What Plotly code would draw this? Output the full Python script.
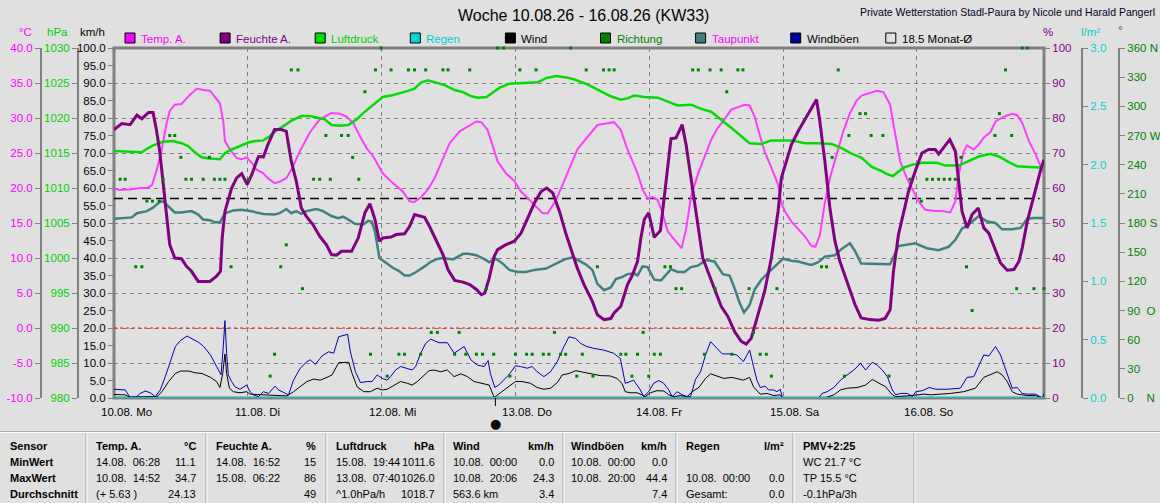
import plotly.graph_objects as go

W, H = 1160, 503
BG = "#e0e0e0"
GRID = "#808080"
AXIS = "#808080"
FONT = "Liberation Sans, Arial, sans-serif"
TITLE_FONT = "Liberation Sans, Arial, sans-serif"
TICK_SIZE = 11.5

# series colours
C_TEMP = "#ff3cff"
C_HUM = "#800080"
C_PRESS = "#00dd00"
C_RAIN = "#00c8d0"
C_WIND = "#000000"
C_DIR = "#008000"
C_DEW = "#408080"
C_GUST = "#0000b0"

# ---------------- data (hours since 10.08. 00:00) ----------------
temp_h = [0, 1.1, 2.9, 4.7, 5.9, 6.8, 7.6, 8.5, 9.4, 10.0,
          10.9, 12.1, 13.6, 14.9, 16.0, 17.2, 19.0, 19.6, 19.9, 20.8,
          22.0, 22.9, 23.8, 24.7, 25.6, 26.8, 27.6, 28.8, 29.7, 30.9,
          32.0, 33.3, 35.1, 36.9, 39.0, 40.5, 41.7, 42.9, 44.1, 45.3,
          46.5, 48.2, 50.0, 51.8, 53.0, 53.9, 55.1, 56.3, 57.5, 59.0,
          60.2, 62.0, 63.5, 65.0, 65.9, 67.0, 68.8, 70.3, 71.8, 73.0,
          74.5, 75.7, 76.9, 77.8, 79.3, 81.1, 82.6,
          83.1, 84.3, 85.5, 86.7, 88.2, 89.7, 90.9, 92.0, 93.0, 93.9,
          94.8, 95.7, 96.6, 97.5, 98.4, 99.3, 100.2, 101.1, 101.8, 102.6,
          103.5, 104.7, 105.9, 107.1, 108.3, 109.5, 110.7, 111.9, 113.1, 114.0,
          114.9, 115.8, 116.7, 117.9, 119.1, 119.7, 120.3, 121.5, 122.7, 123.9,
          125.1, 125.8, 126.6, 127.5, 128.4, 129.6, 130.8, 132.0, 133.2, 134.1,
          135.6, 136.8, 138.0, 139.2, 139.8, 140.4, 141.0, 142.2, 143.4, 144.3,
          145.5, 147.3, 148.5, 150.0, 150.9, 151.5, 152.4, 153.0, 154.2, 155.1,
          156.0, 157.2, 158.1, 159.6, 161.1, 162.0, 162.9, 164.1, 165.3, 166.2,
          166.8]
temp_c = [19.9, 19.7, 19.8, 20.0, 20.0, 20.4, 22.4, 25.2, 29.1, 31.0,
          31.9, 32.0, 33.3, 34.2, 34.0, 33.9, 32.1, 29.5, 26.7, 25.5,
          24.3, 24.1, 24.4, 23.6, 22.6, 22.1, 21.4, 20.7, 20.9, 21.4,
          22.9, 25.2, 27.9, 29.8, 30.7, 30.6, 30.2, 29.3, 27.4, 25.7,
          24.5, 22.1, 20.7, 19.5, 18.1, 18.0, 18.7, 19.8, 21.4, 24.1,
          26.4, 28.1, 28.8, 29.5, 29.4, 28.3, 23.8, 22.1, 21.0, 19.5,
          18.3, 17.4, 16.4, 16.4, 18.3, 21.7, 24.5,
          25.5, 26.7, 27.9, 29.0, 29.2, 29.4, 28.3, 25.7, 23.8, 22.1,
          19.8, 18.5, 18.7, 18.3, 16.4, 13.8, 12.9, 12.1, 11.4, 14.1,
          18.8, 21.9, 24.3, 26.9, 28.6, 29.8, 31.2, 31.5, 31.9, 31.8,
          30.2, 27.6, 25.2, 22.9, 20.5, 17.9, 16.7, 15.2, 14.1, 13.1,
          11.7, 11.6, 13.3, 17.9, 21.4, 24.8, 28.1, 30.7, 32.5, 33.2,
          33.6, 33.9, 33.7, 31.9, 29.1, 26.2, 23.8, 21.4, 19.5, 18.1,
          16.9, 16.7, 16.7, 16.5, 18.1, 21.9, 25.2, 26.1, 25.5, 26.2,
          27.2, 28.0, 29.5, 30.2, 30.6, 30.4, 29.3, 26.7, 24.8, 22.9,
          21.9]

hum_h = [0, 1.4, 2.9, 4.1, 5.0, 6.2, 7.0, 7.6, 8.2, 8.7,
         9.1, 9.6, 10.0, 10.9, 12.1, 13.0, 13.9, 15.1, 17.2, 18.4,
         19.1, 19.4, 19.9, 21.1, 22.0, 22.9, 23.9, 24.7, 25.9, 26.8,
         27.6, 28.8, 30.0, 30.9, 31.8, 32.7, 33.6, 34.5, 35.7, 36.9,
         38.1, 39.0, 39.9, 40.8, 42.6, 43.8, 45.0, 45.9, 46.8, 47.6,
         48.2, 49.7, 50.6, 52.1, 53.0, 53.9, 55.7, 56.6, 57.8, 59.0,
         59.9, 61.1, 62.6, 63.8, 65.0, 65.9, 66.5, 67.3, 68.2, 68.8,
         70.3, 71.8, 73.0, 74.2, 75.4, 76.6, 77.6, 78.7, 79.9, 81.1,
         82.6,
         83.1, 84.3, 85.8, 86.7, 87.9, 89.1, 89.7, 90.9, 92.1, 93.0,
         93.9, 94.5, 95.1, 95.9, 96.4, 96.9, 98.0, 98.6, 99.2, 99.9,
         100.8, 101.9, 102.6, 103.5, 104.7, 105.6, 106.5, 107.7, 108.9, 110.1,
         111.3, 112.5, 113.4, 114.3, 115.5, 116.7, 117.9, 119.1, 119.7, 120.6,
         121.5, 122.7, 123.9, 125.1, 126.0, 126.6, 127.5, 128.4, 129.3, 130.2,
         131.7, 132.9, 134.0, 135.6, 137.1, 138.3, 139.2, 139.8, 140.7, 141.6,
         142.5, 143.7, 144.9, 146.1, 147.3, 147.9, 148.8, 149.9, 150.9, 151.5,
         152.1, 153.0, 153.9, 155.0, 156.0, 156.9, 158.1, 159.0, 160.2, 161.4,
         162.3, 162.9, 163.8, 164.7, 165.6, 166.2, 166.8]
hum_pct = [76.7, 78.4, 78.1, 80.8, 79.8, 81.6, 81.6, 76.7, 70.5, 62.9,
           56.2, 50.5, 43.8, 40.0, 39.8, 37.6, 36.2, 33.3, 33.3, 34.8,
           36.2, 45.7, 53.3, 60.0, 62.9, 64.1, 61.0, 63.8, 69.0, 68.9,
           72.4, 76.7, 76.7, 76.2, 67.6, 61.9, 54.3, 51.9, 49.5, 46.2,
           43.8, 41.0, 40.8, 41.9, 41.9, 45.7, 52.9, 55.5, 51.0, 44.8,
           45.7, 46.0, 46.7, 46.9, 49.0, 52.4, 51.6, 49.0, 45.2, 41.0,
           36.7, 33.6, 33.1, 32.4, 31.0, 29.5, 30.0, 34.3, 40.5, 42.4,
           43.8, 44.8, 47.1, 51.4, 55.7, 59.0, 60.0, 58.6, 53.3, 46.7,
           39.0,
           37.1, 32.4, 27.6, 23.8, 22.4, 22.7, 24.3, 26.2, 32.4, 35.2,
           39.0, 45.7, 51.0, 52.9, 49.0, 45.9, 47.8, 56.2, 65.7, 74.1,
           74.3, 78.1, 72.4, 62.9, 50.5, 40.0, 36.2, 31.4, 26.2, 23.3,
           19.0, 16.2, 15.4, 17.1, 23.8, 30.5, 40.0, 53.3, 62.9, 67.6,
           72.4, 76.2, 79.5, 82.9, 85.3, 79.0, 67.6, 54.3, 44.8, 39.0,
           32.4, 26.7, 22.9, 22.4, 22.2, 22.7, 25.2, 36.2, 46.7, 53.3,
           59.0, 64.8, 70.0, 71.0, 71.0, 69.7, 71.4, 73.8, 70.5, 61.0,
           53.3, 48.6, 52.4, 54.3, 48.6, 47.1, 41.9, 38.6, 36.5, 36.7,
           39.0, 42.9, 50.5, 56.2, 61.9, 65.2, 68.1]

press_h = [0, 1.7, 3.5, 5.0, 5.9, 7.0, 8.8, 10.6, 12.1, 13.3,
           14.5, 15.7, 17.2, 19.0, 19.9, 21.1, 22.6, 24.1, 25.3, 26.8,
           27.9, 29.1, 30.3, 31.8, 33.6, 35.1, 36.6, 37.8, 39.0, 40.5,
           42.0, 43.5, 44.7, 46.2, 47.0, 48.2, 49.7, 51.2, 52.4, 53.9,
           55.1, 56.3, 57.8, 59.3, 61.1, 62.6, 64.1, 65.3, 66.8, 67.9,
           69.1, 70.9, 72.7, 74.5, 76.0, 77.5, 79.3, 81.1, 82.6,
           84.9, 86.7, 89.1, 90.9, 92.1, 93.3, 95.1, 97.5, 99.3, 101.1,
           103.5, 105.3, 107.1, 108.9, 110.7, 112.5, 114.0, 116.1, 117.9, 121.5,
           123.9, 126.3, 128.7, 130.5, 132.3, 134.1, 135.9, 137.7, 138.6, 139.7,
           141.6, 143.1, 144.9, 147.6, 149.1, 151.5, 153.3, 155.1, 157.2, 158.7,
           160.5, 162.0, 164.1, 166.8]
press_hpa = [1015.3, 1015.2, 1015.1, 1015.1, 1015.6, 1016.1, 1016.6, 1016.7, 1016.4, 1016.0,
             1015.1, 1014.4, 1014.2, 1014.1, 1015.0, 1015.5, 1016.0, 1016.5, 1016.7, 1016.8,
             1017.4, 1018.2, 1018.8, 1019.6, 1020.3, 1020.3, 1020.0, 1019.8, 1019.0, 1018.9,
             1019.0, 1019.8, 1020.7, 1021.7, 1022.3, 1023.0, 1023.2, 1023.5, 1023.8, 1024.2,
             1025.1, 1025.4, 1025.0, 1024.7, 1024.0, 1023.7, 1023.1, 1022.9, 1023.0, 1023.6,
             1024.3, 1024.9, 1025.0, 1025.1, 1025.1, 1025.7, 1026.0, 1025.8, 1025.5,
             1024.8, 1024.1, 1023.1, 1022.6, 1022.8, 1023.2, 1023.0, 1022.9, 1022.4, 1021.8,
             1021.9, 1021.3, 1020.9, 1019.8, 1018.6, 1017.4, 1016.4, 1016.3, 1016.8, 1016.8,
             1016.4, 1016.4, 1016.3, 1015.7, 1014.9, 1014.3, 1013.0, 1012.4, 1012.0, 1011.7,
             1012.9, 1013.3, 1013.6, 1013.6, 1013.2, 1013.2, 1013.8, 1014.5, 1014.9, 1014.5,
             1013.7, 1013.1, 1013.0, 1012.9]

dew_h = [0, 1.7, 3.2, 4.1, 5.9, 7.0, 8.2, 8.8, 9.7, 10.9,
         12.1, 13.9, 15.1, 16.0, 17.2, 18.1, 19.0, 19.9, 21.4, 22.9,
         24.4, 25.6, 26.8, 28.8, 29.7, 30.9, 31.8, 32.7, 33.6, 34.5,
         36.3, 37.5, 39.0, 40.2, 41.1, 42.0, 43.2, 44.7, 45.6, 46.2,
         46.8, 47.6, 48.8, 50.0, 51.2, 52.1, 53.0, 54.2, 55.7, 56.9,
         58.1, 59.0, 60.8, 62.6, 63.5, 65.0, 66.5, 67.3, 68.5, 69.7,
         70.9, 72.4, 73.9, 75.4, 77.5, 79.0, 80.8, 82.3,
         84.6, 85.8, 86.7, 87.9, 89.1, 90.0, 91.2, 92.1, 93.3, 93.9,
         94.8, 95.7, 96.9, 98.1, 99.9, 101.1, 102.3, 103.5, 104.7, 106.2,
         107.7, 109.2, 110.4, 111.3, 112.2, 113.0, 114.0, 114.9, 116.1, 117.6,
         119.1, 120.0, 121.5, 122.7, 124.5, 125.1, 126.3, 127.5, 129.3, 130.5,
         132.0, 132.9, 134.0, 135.9, 138.3, 139.2, 140.7, 142.5, 143.7, 145.8,
         147.9, 149.7, 150.9, 152.1, 153.3, 155.1, 156.6, 158.1, 159.3, 161.1,
         162.6, 163.8, 165.0, 166.8]
dew_c = [15.6, 15.7, 15.8, 16.4, 16.7, 17.2, 18.0, 18.1, 17.4, 16.5,
         16.5, 16.7, 16.2, 15.5, 15.4, 15.1, 15.1, 16.4, 16.8, 16.9,
         16.7, 16.5, 16.3, 16.2, 16.4, 17.0, 16.4, 16.7, 16.3, 16.7,
         17.0, 16.7, 16.0, 15.7, 15.9, 15.5, 14.9, 14.8, 15.3, 15.2,
         13.8, 10.0, 9.3, 8.6, 8.1, 7.5, 7.5, 8.0, 8.8, 9.5,
         9.9, 10.0, 9.8, 10.6, 10.6, 10.4, 9.8, 9.4, 9.9, 9.2,
         8.3, 8.0, 8.0, 8.3, 8.5, 9.1, 9.8, 10.1,
         9.1, 8.3, 6.3, 5.4, 5.8, 7.0, 7.3, 7.7, 7.8, 7.5,
         8.8, 8.7, 6.9, 6.8, 8.4, 8.0, 8.0, 8.7, 8.9, 9.7,
         9.5, 7.7, 7.5, 5.7, 3.6, 2.2, 3.3, 5.5, 6.9, 8.1,
         9.3, 9.9, 9.6, 9.5, 9.1, 9.0, 9.4, 10.2, 10.4, 11.3,
         12.1, 11.0, 9.2, 9.2, 9.2, 9.1, 11.7, 11.9, 12.1, 11.4,
         11.1, 11.6, 12.6, 14.2, 14.8, 16.0, 15.2, 15.0, 14.1, 14.1,
         14.3, 15.6, 15.7, 15.7]

wind_h = [0, 1.1, 2.0, 2.9, 4.1, 5.3, 6.5, 7.7, 8.6, 9.8,
          11.0, 11.9, 13.4, 14.6, 15.8, 17.3, 18.4, 19.0, 19.5, 19.9,
          20.2, 20.7, 21.4, 22.6, 23.8, 24.4, 25.6, 26.8, 28.0, 29.2,
          31.0, 32.2, 33.4, 34.6, 35.8, 37.0, 38.2, 39.1, 40.3, 41.2,
          42.1, 42.7, 43.6, 44.8, 46.0, 47.2, 48.1, 49.0, 50.2, 51.4,
          52.6, 53.5, 54.4, 55.3, 56.5, 57.4, 58.6, 59.8, 61.0, 62.2,
          63.4, 64.6, 66.1, 67.3, 68.0, 68.3, 68.4, 69.3, 70.5, 72.0,
          73.2, 74.7, 75.9, 77.1, 78.3, 79.5, 80.4, 81.6, 82.8,
          85.4, 87.2, 89.0, 90.2, 91.1, 91.7, 92.6, 93.8, 94.7, 95.3,
          96.2, 97.4, 98.6, 99.5, 100.4, 101.6, 102.8, 103.7, 104.9, 106.1,
          107.0, 108.2, 109.4, 110.8, 112.0, 112.9, 114.0, 114.7, 115.9, 117.1,
          118.3, 119.5, 119.9, 127.3, 128.2, 129.1, 130.3, 131.5, 133.3, 134.8,
          136.0, 137.2, 138.4, 139.6, 140.2, 142.3, 143.8, 145.3, 146.5, 148.2,
          150.0, 152.4, 154.5, 156.0, 157.2, 158.4, 159.3, 160.2, 161.1, 162.0,
          163.8, 165.3, 166.5, 166.8]
wind_kmh = [1.0, 0.9, 0.9, 0.3, 0.3, 0.4, 0.4, 0.4, 1.8, 4.7,
            7.0, 7.7, 7.7, 7.2, 7.0, 5.9, 4.7, 3.0, 7.0, 12.6,
            7.0, 2.8, 1.8, 1.5, 1.8, 1.1, 1.0, 0.9, 1.0, 0.7,
            0.6, 1.8, 3.2, 4.7, 5.4, 5.1, 5.9, 6.6, 10.1, 10.2,
            10.2, 7.0, 3.2, 1.8, 1.8, 2.8, 2.3, 2.5, 3.7, 4.7,
            4.2, 3.7, 4.7, 6.1, 7.8, 8.0, 7.5, 8.0, 6.1, 6.9,
            6.1, 4.7, 4.2, 3.7, 0.9, 0.0, 0.4, 1.5, 2.8, 4.7,
            4.7, 4.2, 3.0, 2.5, 2.8, 4.4, 6.6, 7.0, 7.8,
            7.0, 6.4, 6.3, 5.6, 4.2, 1.8, 1.5, 1.5, 0.9, 0.4,
            1.5, 2.1, 2.0, 0.9, 0.4, 0.7, 0.4, 1.8, 3.0, 5.6,
            6.9, 6.3, 5.6, 5.9, 5.4, 5.1, 5.9, 3.2, 1.1, 1.3,
            0.7, 0.9, 0.0, 0.0, 0.4, 0.9, 2.3, 2.8, 3.0, 3.7,
            5.3, 4.2, 3.2, 0.9, 0.4, 0.6, 0.9, 1.1, 0.9, 1.1,
            1.3, 1.8, 2.8, 5.9, 6.6, 7.5, 6.6, 4.7, 1.8, 1.1,
            0.7, 0.7, 0.0, 0.0]

gust_h = [0, 1.1, 2.0, 2.6, 2.9, 3.8, 4.7, 5.6, 6.5, 7.4,
          8.3, 9.2, 10.1, 11.0, 11.9, 13.1, 14.0, 15.2, 16.1, 17.3,
          18.4, 19.2, 19.6, 19.9, 20.2, 20.5, 21.1, 21.7, 22.6, 23.8,
          24.4, 25.0, 25.9, 26.8, 27.7, 28.3, 28.9, 29.5, 30.4, 31.3,
          32.2, 33.4, 34.6, 35.2, 36.1, 37.3, 38.5, 39.4, 40.3, 41.2,
          41.9, 42.4, 43.3, 44.2, 45.4, 46.3, 47.2, 48.1, 49.0, 49.6,
          50.5, 51.4, 52.6, 53.5, 54.1, 55.0, 55.9, 56.8, 58.3, 59.8,
          61.0, 61.9, 62.8, 64.0, 65.2, 66.4, 67.1, 67.5, 68.3, 69.0,
          69.9, 70.8, 72.0, 72.9, 74.1, 75.0, 75.9, 77.1, 78.3, 79.5,
          80.7, 81.6, 82.8, 83.7,
          84.8, 86.0, 87.8, 89.6, 90.8, 91.7, 92.6, 93.2, 93.8, 94.4,
          95.0, 95.9, 96.8, 97.7, 98.6, 99.5, 100.1, 101.0, 101.9, 102.8,
          103.4, 104.3, 105.2, 106.1, 107.0, 107.9, 109.1, 110.5, 111.7, 112.9,
          114.0, 114.7, 115.3, 115.9, 116.8, 117.4, 118.3, 118.9, 119.5, 119.9,
          120.7, 126.4, 127.0, 127.9, 129.1, 130.3, 131.5, 132.7, 133.9, 134.8,
          136.0, 136.9, 137.8, 138.7, 139.6, 140.2, 141.1, 142.3, 143.2, 143.8,
          145.0, 146.2, 147.4, 149.4, 151.8, 153.0, 154.2, 155.1, 156.0, 156.9,
          158.1, 159.0, 159.9, 161.1, 162.0, 162.9, 163.8, 165.3, 166.5, 166.8]
gust_kmh = [2.5, 2.5, 2.3, 0.9, 0.1, 0.1, 1.3, 2.0, 1.5, 0.4,
            2.3, 6.1, 10.4, 14.7, 16.4, 17.7, 16.9, 15.9, 14.7, 12.3,
            9.0, 6.6, 14.7, 22.1, 12.8, 6.6, 4.7, 3.2, 2.5, 3.7,
            1.8, 0.9, 0.4, 1.8, 1.3, 2.3, 3.4, 2.3, 1.5, 0.9,
            5.1, 8.5, 10.4, 10.9, 9.6, 12.0, 13.2, 12.8, 17.5, 18.0,
            18.2, 13.2, 7.5, 4.4, 4.7, 4.7, 6.6, 5.6, 5.1, 6.1,
            8.0, 9.0, 8.5, 8.0, 9.0, 12.8, 15.6, 16.8, 15.8, 15.8,
            12.8, 13.7, 14.7, 10.9, 9.4, 9.0, 10.7, 7.0, 3.0, 3.7,
            5.1, 6.6, 9.2, 9.0, 8.5, 9.0, 7.5, 6.1, 7.5, 10.4,
            14.7, 17.5, 17.0, 15.6,
            14.7, 14.2, 13.7, 12.8, 11.3, 4.2, 4.7, 5.1, 3.7, 2.3,
            0.4, 1.8, 4.2, 5.0, 4.2, 2.3, 0.4, 1.8, 0.9, 0.4,
            0.4, 5.3, 7.5, 12.3, 16.1, 14.7, 12.6, 12.6, 12.3, 10.4,
            13.7, 9.0, 5.1, 3.0, 3.4, 2.3, 2.3, 1.8, 2.5, 0.0,
            0.0, 0.0, 1.3, 1.8, 3.0, 5.1, 6.6, 8.0, 9.9, 8.0,
            10.2, 9.4, 8.0, 6.1, 2.3, 0.9, 1.3, 1.3, 0.4, 1.8,
            2.1, 3.0, 2.5, 2.5, 2.8, 5.9, 6.1, 9.4, 12.3, 12.0,
            14.7, 12.3, 8.0, 2.8, 3.0, 1.3, 1.1, 1.1, 0.0, 1.3]

rain_h = [0, 24, 48, 72, 96, 120, 144, 166.8]
rain_mm = [0.0, 0.0, 0.0, 0.0, 0.0, 0.0, 0.0, 0.0]

dir_h = [1.1, 2.0, 3.9, 5.0, 5.9, 6.9, 8.1, 8.8, 10.0, 10.9,
         12.0, 12.9, 13.9, 16.0, 17.1, 18.0, 19.0, 19.9, 21.0, 24.1,
         28.0, 28.8, 29.9, 30.9, 31.8, 33.0, 33.8, 35.8, 36.9, 38.0,
         38.8, 40.8, 42.0, 42.8, 43.9, 45.0, 46.0, 46.9, 47.9, 49.0,
         49.7, 51.1, 52.1, 52.8, 53.9, 55.0, 55.9, 56.9, 58.0, 59.0,
         59.9, 61.1, 61.9, 63.1, 63.8, 65.0, 66.1, 66.8, 68.1, 68.8,
         69.9, 71.0, 72.0, 72.8, 74.0, 75.0, 75.7, 77.0, 78.0, 79.0,
         80.1, 81.0, 81.9, 83.0, 84.0, 84.7, 85.9, 86.7, 87.8, 88.8,
         89.7, 90.9, 91.8, 92.9, 93.9, 94.9, 95.9, 96.9, 98.0, 98.8,
         99.8, 100.8, 101.8, 103.8, 104.8, 105.9, 106.9, 107.8, 108.9, 109.9,
         110.8, 111.9, 112.8, 113.9, 114.7, 115.9, 117.0, 117.9, 118.9, 126.9,
         127.8, 128.8, 129.9, 131.0, 131.8, 133.8, 134.8, 135.8, 137.9, 139.0,
         142.8, 144.8, 145.8, 146.8, 147.9, 148.9, 149.9, 150.9, 151.9, 152.9,
         153.9, 158.0, 158.8, 159.9, 161.0, 161.9, 162.9, 163.8, 165.0, 166.8]
dir_deg = [225, 225, 135, 135, 202.5, 202.5, 202.5, 225, 270, 270,
           247.5, 225, 225, 225, 247.5, 225, 225, 225, 135, 225,
           22.5, 45, 135, 157.5, 337.5, 337.5, 112.5, 225, 225, 270,
           225, 270, 270, 247.5, 225, 315, 45, 337.5, 360, 22.5,
           337.5, 45, 45, 337.5, 337.5, 45, 337.5, 67.5, 67.5, 337.5,
           337.5, 45, 67.5, 45, 337.5, 45, 45, 112.5, 45, 360,
           360, 22.5, 45, 337.5, 45, 45, 337.5, 45, 45, 67.5,
           45, 45, 360, 22.5, 45, 337.5, 22.5, 135, 337.5, 337.5,
           337.5, 45, 45, 22.5, 45, 67.5, 22.5, 45, 45, 135,
           135, 112.5, 112.5, 337.5, 337.5, 45, 337.5, 112.5, 337.5, 315,
           45, 337.5, 337.5, 112.5, 67.5, 45, 45, 22.5, 112.5, 135,
           135, 247.5, 337.5, 22.5, 270, 292.5, 292.5, 270, 270, 22.5,
           225, 202.5, 225, 225, 225, 225, 225, 225, 247.5, 135,
           90, 270, 292.5, 337.5, 270, 112.5, 360, 360, 112.5, 112.5]

MONTH_AVG_TEMP = 18.5
FROST_TEMP = 0.0
NEW_MOON_H = 68.4
X_END_H = 166.8

DAY_HOURS = [0, 24, 48, 72, 96, 120, 144]
DAY_LABELS = ["10.08. Mo", "11.08. Di", "12.08. Mi", "13.08. Do",
              "14.08. Fr", "15.08. Sa", "16.08. So"]

TEMP_TICKS = [-10, -5, 0, 5, 10, 15, 20, 25, 30, 35, 40]
PRESS_TICKS = [980, 985, 990, 995, 1000, 1005, 1010, 1015, 1020, 1025, 1030]
KMH_TICKS = [0, 5, 10, 15, 20, 25, 30, 35, 40, 45, 50, 55, 60, 65, 70, 75, 80, 85, 90, 95, 100]
HUM_TICKS = [0, 10, 20, 30, 40, 50, 60, 70, 80, 90, 100]
RAIN_TICKS = [0, 0.5, 1.0, 1.5, 2.0, 2.5, 3.0]
DIR_TICKS = [0, 30, 60, 90, 120, 150, 180, 210, 240, 270, 300, 330, 360]
NB = "\u00a0"
DIR_TEXT = ["0" + NB * 4 + "N", "30", "60", "90" + NB * 2 + "O", "120", "150", "180 S",
            "210", "240", "270 W", "300", "330", "360 N"]

TITLE = "Woche 10.08.26 - 16.08.26 (KW33)"
CREDIT = "Private Wetterstation Stadl-Paura by Nicole und Harald Pangerl"

# summary table below the chart
TBL_ROWS = ["Sensor", "MinWert", "MaxWert", "Durchschnitt"]
TBL_SENSORS = ["Temp. A.", "Feuchte A.", "Luftdruck", "Wind", "Windböen", "Regen"]
TBL_UNITS = ["°C", "%", "hPa", "km/h", "km/h", "l/m²"]
TBL_MIN_TIME = ["14.08." + NB * 2 + "06:28", "14.08." + NB * 2 + "16:52", "15.08." + NB * 2 + "19:44",
                "10.08." + NB * 2 + "00:00", "10.08." + NB * 2 + "00:00", ""]
TBL_MIN_VAL = ["11.1", "15", "1011.6", "0.0", "0.0", ""]
TBL_MAX_TIME = ["10.08." + NB * 2 + "14:52", "15.08." + NB * 2 + "06:22", "13.08." + NB * 2 + "07:40",
                "10.08." + NB * 2 + "20:06", "10.08." + NB * 2 + "20:00", "10.08." + NB * 2 + "00:00"]
TBL_MAX_VAL = ["34.7", "86", "1026.0", "24.3", "44.4", "0.0"]
TBL_AVG_NOTE = ["(+ 5.63 )", "", "^1.0hPa/h", "563.6 km", "", "Gesamt:"]
TBL_AVG_VAL = ["24.13", "49", "1018.7", "3.4", "7.4", "0.0"]
PMV_LINES = ["<b>PMV+2:25</b>", "WC 21.7 °C", "TP 15.5 °C", "-0.1hPa/3h"]


def px(x):
    return x / W


def py(y):
    return 1 - y / H


fig = go.Figure()

# wind & gusts on km/h axis
fig.add_trace(go.Scatter(x=wind_h, y=wind_kmh, mode="lines", yaxis="y",
                         line=dict(color=C_WIND, width=1), name="Wind"))
fig.add_trace(go.Scatter(x=gust_h, y=gust_kmh, mode="lines", yaxis="y",
                         line=dict(color=C_GUST, width=1), name="Windböen"))
# reference lines on the temperature scale (0 °C and monthly mean)
fig.add_trace(go.Scatter(x=[0, X_END_H], y=[FROST_TEMP, FROST_TEMP], mode="lines", yaxis="y2",
                         line=dict(color="#ff0000", width=1, dash="3px,3px"), hoverinfo="skip"))
fig.add_trace(go.Scatter(x=[0, X_END_H - 0.8], y=[MONTH_AVG_TEMP, MONTH_AVG_TEMP], mode="lines", yaxis="y2",
                         line=dict(color="black", width=1.5, dash="9px,5px"), hoverinfo="skip"))
# temperatures
fig.add_trace(go.Scatter(x=temp_h, y=temp_c, mode="lines", yaxis="y2",
                         line=dict(color=C_TEMP, width=2), name="Temp. A."))
fig.add_trace(go.Scatter(x=dew_h, y=dew_c, mode="lines", yaxis="y2",
                         line=dict(color=C_DEW, width=2.5), name="Taupunkt"))
# pressure
fig.add_trace(go.Scatter(x=press_h, y=press_hpa, mode="lines", yaxis="y3",
                         line=dict(color=C_PRESS, width=2.5), name="Luftdruck"))
# humidity
fig.add_trace(go.Scatter(x=hum_h, y=hum_pct, mode="lines", yaxis="y4",
                         line=dict(color=C_HUM, width=3), name="Feuchte A."))
# rain
fig.add_trace(go.Scatter(x=rain_h, y=rain_mm, mode="lines", yaxis="y5",
                         line=dict(color=C_RAIN, width=2), cliponaxis=False, name="Regen"))
# wind direction
fig.add_trace(go.Scatter(x=dir_h, y=dir_deg, mode="markers", yaxis="y6",
                         marker=dict(color=C_DIR, size=3, symbol="square", line=dict(width=0)),
                         cliponaxis=False, name="Richtung"))

# plot frame (drawn under the traces)
fig.add_shape(type="rect", xref="paper", yref="paper",
              x0=px(114), x1=px(1044), y0=py(398), y1=py(48),
              line=dict(color=AXIS, width=3), layer="below")

# new moon symbol under the time axis
fig.add_shape(type="line", xref="x", yref="paper", x0=NEW_MOON_H, x1=NEW_MOON_H,
              y0=py(398), y1=py(406), line=dict(color="black", width=1))

annotations = []


def note(x, y, text, size=TICK_SIZE, color="black", xanchor="left", family=FONT):
    annotations.append(dict(x=x, y=y, xref="paper", yref="paper", text=text, showarrow=False,
                            xanchor=xanchor, yanchor="middle",
                            font=dict(family=family, size=size, color=color)))


note(px(583), py(15), TITLE, size=16, xanchor="center", family=TITLE_FONT)
note(px(1157), py(12), CREDIT, size=10.5, color="#000020", xanchor="right", family=TITLE_FONT)

annotations.append(dict(x=NEW_MOON_H, y=py(423), xref="x", yref="paper", text="●", showarrow=False,
                        xanchor="center", yanchor="middle",
                        font=dict(family="DejaVu Sans", size=13, color="black")))

# axis unit labels
note(px(25), py(32), "°C", color="#ff00ff", xanchor="center")
note(px(57), py(32), "hPa", color="#00d000", xanchor="center")
note(px(92), py(32), "km/h", color="black", xanchor="center")
note(px(1048), py(32), "%", color=C_HUM, xanchor="center")
note(px(1090), py(32), "l/m²", color="#00d0d0", xanchor="center")
note(px(1120), py(30), "°", color=C_DIR, xanchor="center")

# legend row
LEGEND_NAMES = ["Temp. A.", "Feuchte A.", "Luftdruck", "Regen", "Wind",
                "Richtung", "Taupunkt", "Windböen", f"{MONTH_AVG_TEMP} Monat-Ø"]
LEGEND_BOX = ["#ff00ff", C_HUM, "#00dd00", "#00d8d8", "black", C_DIR, C_DEW, "#0000a0", BG]
LEGEND_TXT = ["#ff00ff", C_HUM, "#00d000", "#00d0d0", "black", C_DIR, "#ff00ff", "black", "black"]
for i, name in enumerate(LEGEND_NAMES):
    bx = 125 + i * 95.1
    fig.add_shape(type="rect", xref="paper", yref="paper",
                  x0=px(bx), x1=px(bx + 10), y0=py(43), y1=py(33),
                  fillcolor=LEGEND_BOX[i], line=dict(color="black", width=1))
    note(px(bx + 14), py(38.5), name, color=LEGEND_TXT[i])

# day labels under the x axis
for h, lab in zip(DAY_HOURS, DAY_LABELS):
    annotations.append(dict(x=h, y=py(412), xref="x", yref="paper", text=lab, showarrow=False,
                            xanchor="left", yanchor="middle", xshift=-15,
                            font=dict(family=FONT, size=TICK_SIZE, color="black")))

# summary table
fig.add_shape(type="line", xref="paper", yref="paper", x0=0, x1=1, y0=py(431.5), y1=py(431.5),
              line=dict(color="#a8a8a8", width=1))
fig.add_shape(type="line", xref="paper", yref="paper", x0=0, x1=1, y0=py(432.5), y1=py(432.5),
              line=dict(color="#ffffff", width=1))
for sx in [86, 206, 326, 444, 563, 676, 793, 914]:
    fig.add_shape(type="line", xref="paper", yref="paper", x0=px(sx), x1=px(sx), y0=py(433), y1=0,
                  line=dict(color="#a0a0a0", width=1))
    fig.add_shape(type="line", xref="paper", yref="paper", x0=px(sx + 1), x1=px(sx + 1), y0=py(433), y1=0,
                  line=dict(color="#ffffff", width=1))

TBL_SIZE = 11
ROW_Y = [446, 462, 478, 494]
for r, lab in enumerate(TBL_ROWS):
    note(px(8), py(ROW_Y[r]), f"<b>{lab}</b>", size=TBL_SIZE)
LAB_X = [94, 214, 334, 451, 569, 684]
VAL_X = [198, 318, 437, 556, 669, 786]
for c in range(len(TBL_SENSORS)):
    note(px(LAB_X[c]), py(ROW_Y[0]), f"<b>{TBL_SENSORS[c]}</b>", size=TBL_SIZE)
    note(px(VAL_X[c]), py(ROW_Y[0]), f"<b>{TBL_UNITS[c]}</b>", size=TBL_SIZE, xanchor="right")
    note(px(LAB_X[c]), py(ROW_Y[1]), TBL_MIN_TIME[c], size=TBL_SIZE)
    note(px(VAL_X[c]), py(ROW_Y[1]), TBL_MIN_VAL[c], size=TBL_SIZE, xanchor="right")
    note(px(LAB_X[c]), py(ROW_Y[2]), TBL_MAX_TIME[c], size=TBL_SIZE)
    note(px(VAL_X[c]), py(ROW_Y[2]), TBL_MAX_VAL[c], size=TBL_SIZE, xanchor="right")
    note(px(LAB_X[c]), py(ROW_Y[3]), TBL_AVG_NOTE[c], size=TBL_SIZE)
    note(px(VAL_X[c]), py(ROW_Y[3]), TBL_AVG_VAL[c], size=TBL_SIZE, xanchor="right")
for r, line in enumerate(PMV_LINES):
    note(px(801), py(ROW_Y[r]), line, size=TBL_SIZE)

tick_common = dict(ticks="outside", ticklen=5, tickcolor=AXIS, tickwidth=1,
                   showgrid=False, zeroline=False, automargin=False, fixedrange=True)

fig.update_layout(
    width=W, height=H,
    margin=dict(l=0, r=0, t=0, b=0),
    paper_bgcolor=BG, plot_bgcolor="rgba(0,0,0,0)",
    showlegend=False,
    font=dict(family=FONT, size=TICK_SIZE, color="black"),
    annotations=annotations,
    xaxis=dict(domain=[px(114), px(1044)], range=[0, X_END_H],
               tickvals=DAY_HOURS[1:], showticklabels=False, ticks="",
               showgrid=True, gridcolor=GRID, gridwidth=1, griddash="4px,4px",
               zeroline=False, showline=False, automargin=False, fixedrange=True),
    yaxis=dict(domain=[py(398), py(48)], range=[0, 100],
               tickvals=KMH_TICKS, ticktext=[f"{v:.1f}" for v in KMH_TICKS],
               tickfont=dict(color="black", size=TICK_SIZE), side="left", **tick_common),
    yaxis2=dict(overlaying="y", anchor="free", position=px(41), side="left", range=[-10, 40],
                tickvals=TEMP_TICKS, ticktext=[f"{v:.1f}" for v in TEMP_TICKS],
                tickfont=dict(color="#ff00ff", size=TICK_SIZE),
                showline=True, linecolor=AXIS, linewidth=2, **tick_common),
    yaxis3=dict(overlaying="y", anchor="free", position=px(78), side="left", range=[980, 1030],
                tickvals=PRESS_TICKS, ticktext=[str(v) for v in PRESS_TICKS],
                tickfont=dict(color="#00d000", size=TICK_SIZE),
                showline=True, linecolor=AXIS, linewidth=2, **tick_common),
    yaxis4=dict(overlaying="y", anchor="x", side="right", range=[0, 100],
                tickvals=HUM_TICKS, ticktext=[str(v) for v in HUM_TICKS],
                tickfont=dict(color=C_HUM, size=TICK_SIZE),
                ticks="outside", ticklen=5, tickcolor=AXIS,
                showgrid=True, gridcolor=GRID, gridwidth=1, griddash="4px,4px",
                zeroline=False, automargin=False, fixedrange=True),
    yaxis5=dict(overlaying="y", anchor="free", position=px(1082), side="right", range=[0, 3],
                tickvals=RAIN_TICKS, ticktext=[f"{v:.1f}" for v in RAIN_TICKS],
                tickfont=dict(color="#00d0d0", size=TICK_SIZE),
                showline=True, linecolor=AXIS, linewidth=2, **tick_common),
    yaxis6=dict(overlaying="y", anchor="free", position=px(1119), side="right", range=[0, 360],
                tickvals=DIR_TICKS, ticktext=DIR_TEXT,
                tickfont=dict(color=C_DIR, size=TICK_SIZE),
                showline=True, linecolor=AXIS, linewidth=2, **tick_common),
)

fig.write_html("out.html", config={"displayModeBar": False},
               post_script="document.body.style.margin='0px';")
